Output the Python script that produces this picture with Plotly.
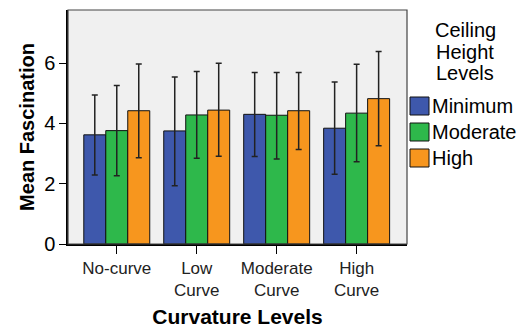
import plotly.graph_objects as go

categories = ["No-curve", "Low<br>Curve", "Moderate<br>Curve", "High<br>Curve"]
series_names = ["Minimum", "Moderate", "High"]
colors = ["#3e58ac", "#2eb84b", "#f7961e"]

mean_minimum = [3.62, 3.75, 4.30, 3.84]
mean_moderate = [3.76, 4.28, 4.27, 4.34]
mean_high = [4.42, 4.44, 4.42, 4.82]

upper_minimum = [4.94, 5.54, 5.69, 5.37]
upper_moderate = [5.26, 5.72, 5.69, 5.96]
upper_high = [5.97, 5.99, 5.69, 6.38]

lower_minimum = [2.29, 1.93, 2.90, 2.31]
lower_moderate = [2.26, 2.84, 2.82, 2.73]
lower_high = [2.86, 2.91, 3.13, 3.26]

y_ticks = [0, 2, 4, 6]
legend_title_lines = ["Ceiling", "Height", "Levels"]

means = [mean_minimum, mean_moderate, mean_high]
uppers = [upper_minimum, upper_moderate, upper_high]
lowers = [lower_minimum, lower_moderate, lower_high]

FONT = "Arial, Liberation Sans, sans-serif"

fig = go.Figure()
for name, col, m, u, l in zip(series_names, colors, means, uppers, lowers):
    fig.add_trace(go.Bar(
        x=categories, y=m, name=name,
        marker=dict(color=col, line=dict(color="#111", width=1)),
        error_y=dict(type="data", symmetric=False,
                     array=[a - b for a, b in zip(u, m)],
                     arrayminus=[b - c for b, c in zip(m, l)],
                     color="#222", thickness=1.5, width=3),
        showlegend=False,
    ))

fig.update_layout(
    width=525, height=333,
    margin=dict(l=68, r=118, t=10, b=89),
    paper_bgcolor="white", plot_bgcolor="#f0f0f0",
    barmode="group", bargap=0.175, bargroupgap=0,
    font=dict(family=FONT, color="black"),
    xaxis=dict(range=[-0.61, 3.63], showgrid=False, zeroline=False, automargin=False,
               showline=True, linecolor="black", linewidth=1.5,
               ticks="outside", ticklen=8, tickcolor="black",
               tickfont=dict(size=17, color="#222"),
               title=dict(text="<b>Curvature Levels</b>", font=dict(size=21), standoff=10)),
    yaxis=dict(range=[0, 7.76], showgrid=False, zeroline=False, automargin=False,
               showline=True, linecolor="black", linewidth=1.5,
               tickvals=y_ticks, ticks="outside", ticklen=7, tickcolor="black",
               tickfont=dict(size=20),
               title=dict(text="<b>Mean Fascination</b>", font=dict(size=20), standoff=4)),
)

# plot frame
fig.add_shape(type="rect", xref="paper", yref="paper", x0=0, y0=0, x1=1, y1=1,
              line=dict(color="#444", width=1.2), fillcolor="rgba(0,0,0,0)", layer="above")

# legend title
title_y = [30, 52, 73]
for txt, yy in zip(legend_title_lines, title_y):
    fig.add_annotation(text=txt, xref="paper", yref="paper",
                       x=(465 - 68) / 339, y=(244 - yy) / 234,
                       showarrow=False, xanchor="center", yanchor="middle",
                       font=dict(size=20, family=FONT, color="black"))

# legend swatches
sw_top = [97, 123, 149]
for name, col, t in zip(series_names, colors, sw_top):
    x0 = (410 - 68) / 339
    x1 = (429 - 68) / 339
    fig.add_shape(type="rect", xref="paper", yref="paper",
                  x0=x0, x1=x1, y0=(244 - t - 18) / 234, y1=(244 - t) / 234,
                  fillcolor=col, line=dict(color="#111", width=1))
    fig.add_annotation(text=name, xref="paper", yref="paper",
                       x=(430 - 68) / 339, y=(244 - t - 9) / 234,
                       showarrow=False, xanchor="left", yanchor="middle",
                       font=dict(size=20, family=FONT, color="black"))

fig.write_html("out.html",
               config={"displayModeBar": False},
               post_script="document.body.style.margin='0';document.body.style.overflow='hidden';")
